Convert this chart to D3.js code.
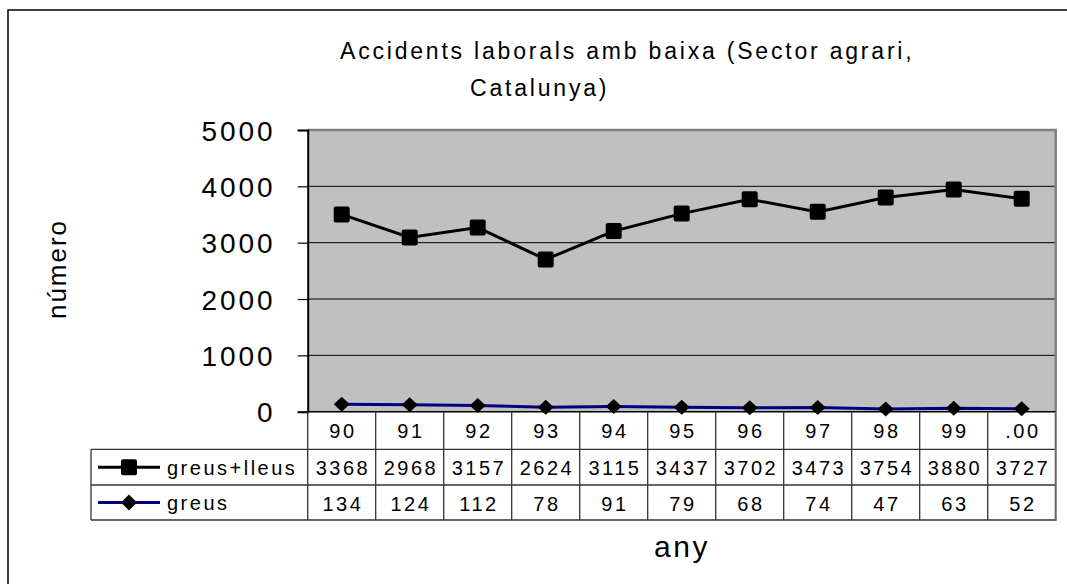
<!DOCTYPE html>
<html>
<head>
<meta charset="utf-8">
<script src="https://cdn.jsdelivr.net/npm/d3@7"></script>
<style>
  html, body { margin: 0; padding: 0; background: #fff; }
  svg text { font-family: "Liberation Sans", Arial, sans-serif; fill: #000; }
</style>
</head>
<body>
<svg id="chart" width="1067" height="584"></svg>
<script>
// ---- data ----
const years = ["90", "91", "92", "93", "94", "95", "96", "97", "98", "99", ".00"];
const greusLleus = [3368, 2968, 3157, 2624, 3115, 3437, 3702, 3473, 3754, 3880, 3727];
const greus = [134, 124, 112, 78, 91, 79, 68, 74, 47, 63, 52];
const yTicks = [0, 1000, 2000, 3000, 4000, 5000];
const seriesNames = ["greus+lleus", "greus"];
const titleLines = ["Accidents laborals amb baixa (Sector agrari,", "Catalunya)"];

// stacked line: greus at the base, greus+lleus stacked on top
const stackedTop = greusLleus.map((v, i) => v + greus[i]);

const svg = d3.select("#chart");
const plot = { left: 307.7, right: 1055.7, top: 130, bottom: 411.7 };

const x = d3.scaleBand().domain(years).range([plot.left, plot.right]);
const y = d3.scaleLinear().domain([0, 5000]).range([plot.bottom, plot.top]);

// outer chart border
svg.append("rect").attr("x", 8).attr("y", 10).attr("width", 1100).attr("height", 600)
  .attr("fill", "none").attr("stroke", "#000").attr("stroke-width", 1.5);

// title
svg.append("text").attr("x", 340).attr("y", 59)
  .attr("font-size", 23).attr("letter-spacing", 2.8).text(titleLines[0]);
svg.append("text").attr("x", 470).attr("y", 96)
  .attr("font-size", 23).attr("letter-spacing", 2.8).text(titleLines[1]);

// plot area
svg.append("rect").attr("x", plot.left).attr("y", plot.top)
  .attr("width", plot.right - plot.left).attr("height", plot.bottom - plot.top)
  .attr("fill", "#c0c0c0");

// gridlines
svg.append("g").selectAll("line").data(yTicks.filter(d => d > 0 && d < 5000)).join("line")
  .attr("x1", plot.left).attr("x2", plot.right)
  .attr("y1", d => y(d)).attr("y2", d => y(d))
  .attr("stroke", "#000").attr("stroke-width", 1);

// top/right plot border (grey)
svg.append("path")
  .attr("d", `M${plot.left},${plot.top}H${plot.right}V${plot.bottom}`)
  .attr("fill", "none").attr("stroke", "#808080").attr("stroke-width", 2.5);

// y axis
const yAxis = d3.axisLeft(y).tickValues(yTicks).tickSize(10).tickPadding(22).tickFormat(d3.format("d"));
const gy = svg.append("g").attr("transform", `translate(${plot.left},0)`).call(yAxis);
gy.select(".domain").attr("stroke", "#000").attr("stroke-width", 2);
gy.selectAll(".tick line").attr("stroke", "#000").attr("stroke-width", 1.2);
gy.selectAll(".tick text")
  .attr("font-family", "Liberation Sans, Arial, sans-serif")
  .attr("font-size", 28).attr("letter-spacing", 3).attr("fill", "#000")
  .attr("dy", "0.36em");

// x axis baseline
svg.append("line").attr("x1", plot.left).attr("x2", plot.right)
  .attr("y1", plot.bottom).attr("y2", plot.bottom)
  .attr("stroke", "#000").attr("stroke-width", 1.5);

// data lines
const line = d3.line().x((d, i) => x(years[i]) + x.bandwidth() / 2).y(d => y(d));
svg.append("path").datum(greus).attr("d", line)
  .attr("fill", "none").attr("stroke", "#000080").attr("stroke-width", 3);
svg.append("path").datum(stackedTop).attr("d", line)
  .attr("fill", "none").attr("stroke", "#000").attr("stroke-width", 3);

const sq = 16;
function diamond(cx, cy, hw, hh) {
  return `M${cx},${cy - hh}L${cx + hw},${cy}L${cx},${cy + hh}L${cx - hw},${cy}Z`;
}
svg.append("g").selectAll("path").data(greus).join("path")
  .attr("d", (d, i) => diamond(x(years[i]) + x.bandwidth() / 2, y(d), 8, 7.5))
  .attr("fill", "#000");
svg.append("g").selectAll("rect").data(stackedTop).join("rect")
  .attr("x", (d, i) => x(years[i]) + x.bandwidth() / 2 - sq / 2)
  .attr("y", d => y(d) - sq / 2)
  .attr("width", sq).attr("height", sq).attr("rx", 2)
  .attr("fill", "#000");

// axis titles
svg.append("text").attr("transform", "translate(66,269) rotate(-90)")
  .attr("text-anchor", "middle").attr("font-size", 26).attr("letter-spacing", 2)
  .text("número");
svg.append("text").attr("x", 682).attr("y", 557)
  .attr("text-anchor", "middle").attr("font-size", 30).attr("letter-spacing", 2.5)
  .text("any");

// ---- data table ----
const tableLeft = 91;
const tbl = svg.append("g");
const gridColor = "#333";
[449.3, 485].forEach(yy => tbl.append("line").attr("x1", tableLeft).attr("x2", plot.right)
  .attr("y1", yy).attr("y2", yy).attr("stroke", gridColor).attr("stroke-width", 1.3));
tbl.append("line").attr("x1", tableLeft).attr("x2", plot.right + 1)
  .attr("y1", 520).attr("y2", 520).attr("stroke", "#666").attr("stroke-width", 2);
tbl.append("line").attr("x1", tableLeft).attr("x2", tableLeft)
  .attr("y1", 449.3).attr("y2", 520).attr("stroke", gridColor).attr("stroke-width", 1.3);
tbl.selectAll("line.v").data(years.concat(["end"])).join("line").attr("class", "v")
  .attr("x1", (d, i) => plot.left + i * x.bandwidth()).attr("x2", (d, i) => plot.left + i * x.bandwidth())
  .attr("y1", plot.bottom).attr("y2", 520)
  .attr("stroke", (d, i) => i === years.length ? "#666" : gridColor)
  .attr("stroke-width", (d, i) => i === years.length ? 2 : 1.3);

const cellFont = 20, cellSpacing = 2.5;
function cellText(vals, baseline) {
  tbl.append("g").selectAll("text").data(vals).join("text")
    .attr("x", (d, i) => x(years[i]) + x.bandwidth() / 2 + cellSpacing / 2)
    .attr("y", baseline)
    .attr("text-anchor", "middle").attr("font-size", cellFont).attr("letter-spacing", cellSpacing)
    .text(d => d);
}
cellText(years, 437.5);
cellText(greusLleus, 475);
cellText(greus, 510.5);

// legend keys
const keyRows = [
  { name: seriesNames[0], cy: 467.2, color: "#000", marker: "square" },
  { name: seriesNames[1], cy: 502.5, color: "#000080", marker: "diamond" }
];
keyRows.forEach(k => {
  tbl.append("line").attr("x1", 98).attr("x2", 160).attr("y1", k.cy).attr("y2", k.cy)
    .attr("stroke", k.color).attr("stroke-width", 3);
  if (k.marker === "square") {
    tbl.append("rect").attr("x", 129 - sq / 2).attr("y", k.cy - sq / 2)
      .attr("width", sq).attr("height", sq).attr("rx", 2).attr("fill", "#000");
  } else {
    tbl.append("path").attr("d", diamond(129, k.cy, 8, 8)).attr("fill", "#000");
  }
  tbl.append("text").attr("x", 167).attr("y", k.cy + 7.5)
    .attr("font-size", cellFont).attr("letter-spacing", cellSpacing).text(k.name);
});
</script>
</body>
</html>
